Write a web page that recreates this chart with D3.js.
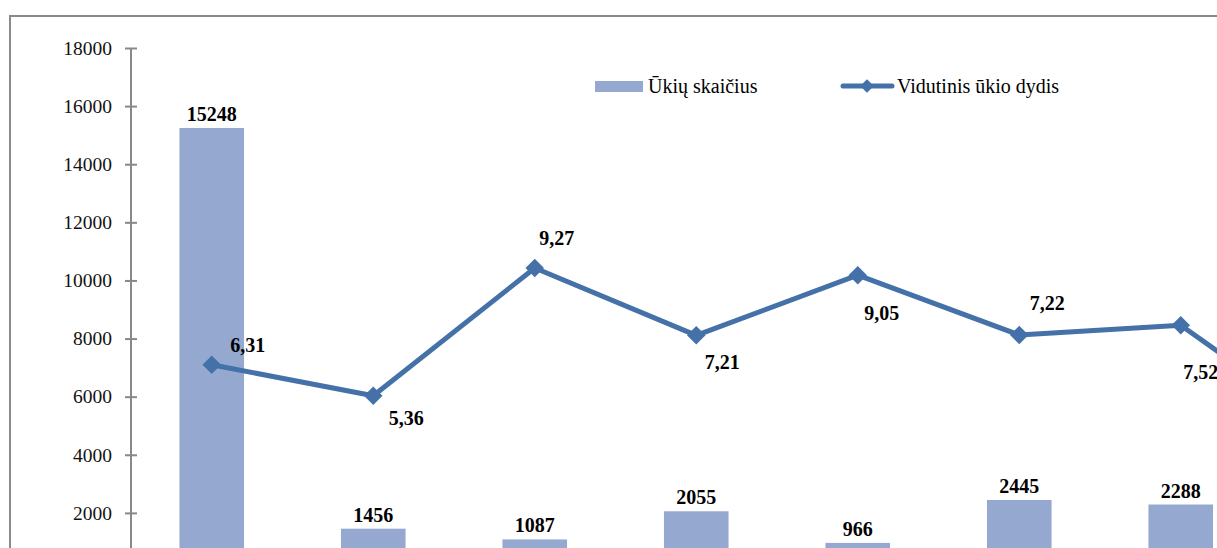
<!DOCTYPE html>
<html>
<head>
<meta charset="utf-8">
<script src="https://cdn.jsdelivr.net/npm/d3@7"></script>
<style>
  body { margin: 0; background: #fff; }
  svg { display: block; }
  svg text { font-family: "Liberation Serif", "Times New Roman", Times, "DejaVu Serif", serif; }
</style>
</head>
<body>
<div id="chart"></div>
<script>
// categories (their names sit below the visible crop)
var categories = ["1", "2", "3", "4", "5", "6", "7", "8"];
var farmCounts = [15248, 1456, 1087, 2055, 966, 2445, 2288];
var avgSize = [6.31, 5.36, 9.27, 7.21, 9.05, 7.22, 7.52, 4.02];
// label nudges for the average-size labels, [dx, dy] from the marker
var avgLabelNudge = [[36, -20], [33, 22], [22, -30], [26, 27], [24, 38], [28, -32], [20, 47]];
var yTicks = [2000, 4000, 6000, 8000, 10000, 12000, 14000, 16000, 18000];

var W = 1217, H = 548;
var barColor = "#95a9d0", lineColor = "#4571a9";

var svg = d3.select("#chart").append("svg")
    .attr("width", W)
    .attr("height", H)
    .style("overflow", "hidden");

// outer chart frame (only left and top edges are inside the crop)
svg.append("rect")
    .attr("x", 10).attr("y", 16)
    .attr("width", 1400).attr("height", 700)
    .attr("fill", "none")
    .attr("stroke", "#8a8a8a")
    .attr("stroke-width", 2);

var x = d3.scaleBand()
    .domain(categories)
    .range([131, 131 + 161.5 * categories.length])
    .paddingInner(0.6)
    .paddingOuter(0.3);

var y = d3.scaleLinear().domain([0, 18000]).range([571, 48]);
var y2 = d3.scaleLinear().domain([0, 16]).range([571, 48]);

var cx = function (d, i) { return x(categories[i]) + x.bandwidth() / 2; };

// bars
svg.selectAll("rect.bar")
    .data(farmCounts)
    .join("rect")
    .attr("class", "bar")
    .attr("x", function (d, i) { return x(categories[i]); })
    .attr("y", function (d) { return y(d); })
    .attr("width", x.bandwidth())
    .attr("height", function (d) { return y(0) - y(d); })
    .attr("fill", barColor);

// left axis
var axis = svg.append("g")
    .attr("transform", "translate(131,0)")
    .call(d3.axisLeft(y).tickValues(yTicks).tickFormat(d3.format("d")).tickSize(6).tickPadding(13));
axis.attr("font-family", null);
axis.select(".domain").remove();
axis.append("line")
    .attr("x1", 0).attr("x2", 0)
    .attr("y1", 48).attr("y2", H + 10)
    .attr("stroke", "#888").attr("stroke-width", 2);
axis.selectAll(".tick line")
    .attr("x1", -6).attr("x2", 6)
    .attr("stroke", "#888").attr("stroke-width", 2);
axis.selectAll(".tick text")
    .attr("fill", "#111")
    .style("font-size", "19.5px");

// bar value labels
svg.selectAll("text.barlab")
    .data(farmCounts)
    .join("text")
    .attr("class", "barlab")
    .attr("x", cx)
    .attr("y", function (d) { return y(d) - 7; })
    .attr("text-anchor", "middle")
    .style("font-size", "20px")
    .style("font-weight", "bold")
    .text(function (d) { return d; });

// line for average farm size
var line = d3.line()
    .x(cx)
    .y(function (d) { return y2(d); });

svg.append("path")
    .datum(avgSize)
    .attr("d", line)
    .attr("fill", "none")
    .attr("stroke", lineColor)
    .attr("stroke-width", 5)
    .attr("stroke-linejoin", "round");

svg.selectAll("path.marker")
    .data(avgSize)
    .join("path")
    .attr("class", "marker")
    .attr("d", d3.symbol().type(d3.symbolDiamond2).size(220))
    .attr("transform", function (d, i) { return "translate(" + cx(d, i) + "," + y2(d) + ")"; })
    .attr("fill", lineColor);

var fmt = function (d) { return d.toFixed(2).replace(".", ","); };
svg.selectAll("text.linelab")
    .data(avgSize.slice(0, avgLabelNudge.length))
    .join("text")
    .attr("class", "linelab")
    .attr("x", function (d, i) { return cx(d, i) + avgLabelNudge[i][0]; })
    .attr("y", function (d, i) { return y2(d) + avgLabelNudge[i][1] + 7; })
    .attr("text-anchor", "middle")
    .style("font-size", "20px")
    .style("font-weight", "bold")
    .text(fmt);

// legend
var lg = svg.append("g");
lg.append("rect")
    .attr("x", 595).attr("y", 81)
    .attr("width", 48).attr("height", 11)
    .attr("fill", barColor);
lg.append("text")
    .attr("x", 648).attr("y", 93)
    .style("font-size", "20px")
    .text("Ūkių skaičius");
lg.append("line")
    .attr("x1", 843).attr("x2", 892)
    .attr("y1", 86).attr("y2", 86)
    .attr("stroke", lineColor)
    .attr("stroke-width", 5)
    .attr("stroke-linecap", "round");
lg.append("path")
    .attr("d", d3.symbol().type(d3.symbolDiamond2).size(120))
    .attr("transform", "translate(867,86)")
    .attr("fill", lineColor);
lg.append("text")
    .attr("x", 897).attr("y", 93)
    .style("font-size", "20px")
    .text("Vidutinis ūkio dydis");
</script>
</body>
</html>
